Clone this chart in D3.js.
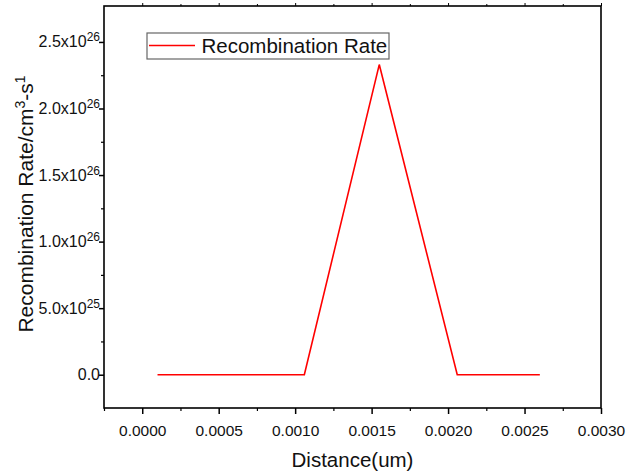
<!DOCTYPE html>
<html>
<head>
<meta charset="utf-8">
<script src="https://cdn.jsdelivr.net/npm/d3@7/dist/d3.min.js"></script>
<style>
  html, body { margin: 0; padding: 0; background: #fff; }
  svg { display: block; font-family: "Liberation Sans", Arial, sans-serif; }
</style>
</head>
<body>
<svg id="chart" width="628" height="474"></svg>
<script>
// Recombination rate profile across the device
const distance = [0.0001, 0.00106, 0.00155, 0.00206, 0.0026];
const recombRate = [0, 0, 2.33e26, 0, 0];

const xTickValues = [0, 0.0005, 0.001, 0.0015, 0.002, 0.0025, 0.003];
const xTickLabels = ["0.0000", "0.0005", "0.0010", "0.0015", "0.0020", "0.0025", "0.0030"];
const xMinorTicks = [-0.00025, 0.00025, 0.00075, 0.00125, 0.00175, 0.00225, 0.00275];

const yTickValues = [0, 5e25, 1e26, 1.5e26, 2e26, 2.5e26];
const yTickMantissa = ["0.0", "5.0x10", "1.0x10", "1.5x10", "2.0x10", "2.5x10"];
const yTickExponent = ["", "25", "26", "26", "26", "26"];
const yMinorTicks = [2.5e25, 7.5e25, 1.25e26, 1.75e26, 2.25e26];

const seriesName = "Recombination Rate";

const svg = d3.select("#chart");
const plot = { left: 104, right: 601, top: 6, bottom: 408 };

const x = d3.scaleLinear().domain([-0.00025, 0.003]).range([plot.left, plot.right]);
const y = d3.scaleLinear().domain([-2.5e25, 2.77e26]).range([plot.bottom, plot.top]);

// Bottom axis: major ticks with labels, minor ticks without
const xAxis = svg.append("g").attr("transform", `translate(0,${plot.bottom})`)
  .call(d3.axisBottom(x).tickValues(xTickValues).tickSize(6).tickSizeOuter(0)
    .tickFormat((d, i) => xTickLabels[i]));
xAxis.select(".domain").remove();
xAxis.selectAll(".tick line").attr("stroke", "#000").attr("stroke-width", 1.5);
xAxis.selectAll(".tick text").attr("font-size", 15.5).attr("fill", "#111").attr("y", 17).attr("dy", "0.71em");
svg.append("g").attr("transform", `translate(0,${plot.bottom})`)
  .call(d3.axisBottom(x).tickValues(xMinorTicks).tickSize(3).tickFormat(""))
  .call(g => g.select(".domain").remove())
  .selectAll(".tick line").attr("stroke", "#000").attr("stroke-width", 1.2);

// Top axis: short outward ticks
svg.append("g").attr("transform", `translate(0,${plot.top})`)
  .call(d3.axisTop(x).tickValues(xTickValues).tickSize(3).tickFormat(""))
  .call(g => g.select(".domain").remove())
  .selectAll(".tick line").attr("stroke", "#000").attr("stroke-width", 1);
svg.append("g").attr("transform", `translate(0,${plot.top})`)
  .call(d3.axisTop(x).tickValues(xMinorTicks.slice(1)).tickSize(2).tickFormat(""))
  .call(g => g.select(".domain").remove())
  .selectAll(".tick line").attr("stroke", "#000").attr("stroke-width", 1);

// Left axis with scientific labels
const yAxis = svg.append("g").attr("transform", `translate(${plot.left},0)`)
  .call(d3.axisLeft(y).tickValues(yTickValues).tickSize(5).tickSizeOuter(0).tickFormat(""));
yAxis.select(".domain").remove();
yAxis.selectAll(".tick line").attr("stroke", "#000").attr("stroke-width", 1.5);
yAxis.selectAll(".tick").each(function (d, i) {
  const t = d3.select(this).append("text")
    .attr("x", -4).attr("y", 5)
    .attr("text-anchor", "end")
    .attr("font-size", 16).attr("fill", "#111");
  t.append("tspan").text(yTickMantissa[i]);
  if (yTickExponent[i]) {
    t.append("tspan").attr("font-size", 12).attr("dy", -6).text(yTickExponent[i]);
  }
});
svg.append("g").attr("transform", `translate(${plot.left},0)`)
  .call(d3.axisLeft(y).tickValues(yMinorTicks).tickSize(3).tickFormat(""))
  .call(g => g.select(".domain").remove())
  .selectAll(".tick line").attr("stroke", "#000").attr("stroke-width", 1.2);

// Frame
svg.append("rect")
  .attr("x", plot.left).attr("y", plot.top)
  .attr("width", plot.right - plot.left).attr("height", plot.bottom - plot.top)
  .attr("fill", "none").attr("stroke", "#000").attr("stroke-width", 1.6);

// Data line
const line = d3.line().x((d, i) => x(distance[i])).y(d => y(d));
svg.append("path")
  .datum(recombRate)
  .attr("d", line)
  .attr("fill", "none")
  .attr("stroke", "#ff0000")
  .attr("stroke-width", 1.6)
  .attr("stroke-linejoin", "miter");

// Legend
const legend = svg.append("g");
legend.append("rect")
  .attr("x", 147).attr("y", 33).attr("width", 242).attr("height", 26)
  .attr("fill", "#fff").attr("stroke", "#666").attr("stroke-width", 1.2);
legend.append("line")
  .attr("x1", 149).attr("x2", 195).attr("y1", 45.5).attr("y2", 45.5)
  .attr("stroke", "#ff0000").attr("stroke-width", 1.6);
legend.append("text")
  .attr("x", 201.5).attr("y", 52.5)
  .attr("font-size", 20.5).attr("fill", "#111")
  .text(seriesName);

// Axis titles
svg.append("text")
  .attr("x", (plot.left + plot.right) / 2).attr("y", 467)
  .attr("text-anchor", "middle")
  .attr("font-size", 20.5).attr("fill", "#111")
  .text("Distance(um)");

const yTitle = svg.append("text")
  .attr("transform", "translate(33,204) rotate(-90)")
  .attr("text-anchor", "middle")
  .attr("font-size", 21).attr("fill", "#111");
yTitle.append("tspan").text("Recombination Rate/cm");
yTitle.append("tspan").attr("font-size", 14).attr("dy", -8).text("3");
yTitle.append("tspan").attr("dy", 8).text("-s");
yTitle.append("tspan").attr("font-size", 14).attr("dy", -8).text("1");
</script>
</body>
</html>
